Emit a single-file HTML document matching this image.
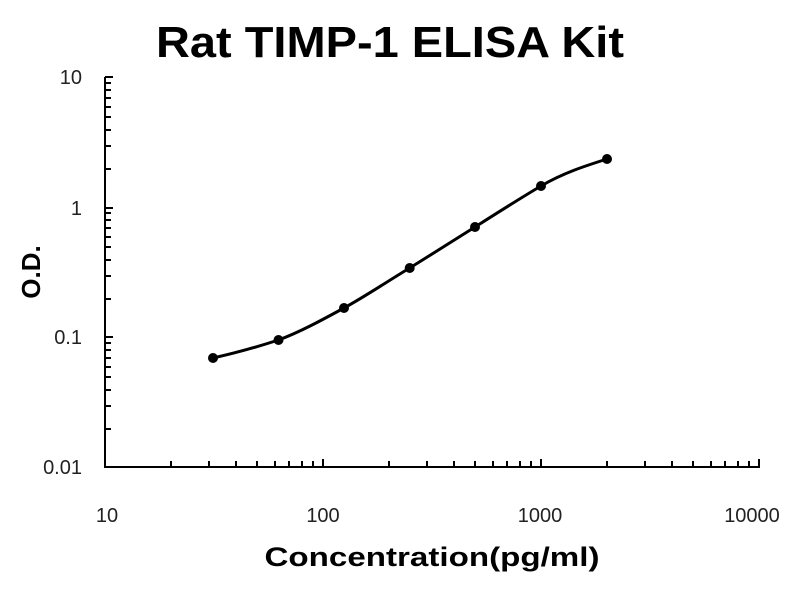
<!DOCTYPE html><html><head><style>body{margin:0;background:#fff}</style></head><body>
<svg width="800" height="600" xmlns="http://www.w3.org/2000/svg" font-family="Liberation Sans, sans-serif">
<rect width="800" height="600" fill="#fff"/>
<text x="390" y="57" font-size="44" font-weight="bold" text-anchor="middle" textLength="468" lengthAdjust="spacingAndGlyphs">Rat TIMP-1 ELISA Kit</text>
<g stroke="#000" stroke-width="2" fill="none">
<path d="M105 77 V467 H760"/>
<path d="
M105 77h8 M105 83h6 M105 90h6 M105 98h6 M105 107h6 M105 117h6 M105 130h6 M105 146h6 M105 169h6 M105 208h8
M105 213h6 M105 220h6 M105 228h6 M105 237h6 M105 247h6 M105 260h6 M105 276h6 M105 299h6 M105 337h8
M105 343h6 M105 350h6 M105 358h6 M105 367h6 M105 377h6 M105 390h6 M105 406h6 M105 429h6
M171 467v-6 M209 467v-6 M236 467v-6 M257 467v-6 M275 467v-6 M289 467v-6 M302 467v-6 M313 467v-6 M323 467v-8
M389 467v-6 M427 467v-6 M454 467v-6 M475 467v-6 M493 467v-6 M507 467v-6 M520 467v-6 M531 467v-6 M541 467v-8
M607 467v-6 M645 467v-6 M672 467v-6 M693 467v-6 M711 467v-6 M725 467v-6 M738 467v-6 M749 467v-6 M759 467v-8"/>
<path stroke-width="3" d="M213 358 C240 352 260 346 278.5 340 C300 332 322 320 344 308 C366 296 388 281 409.7 268 C432 254 453 241 475 227 C497 213 519 199 541 186 C563 173 585 166 607 159"/>
</g>
<g fill="#000"><circle cx="213" cy="358" r="5"/><circle cx="278.5" cy="340" r="5"/><circle cx="344" cy="308" r="5"/><circle cx="409.7" cy="268" r="5"/><circle cx="475" cy="227" r="5"/><circle cx="541" cy="186" r="5"/><circle cx="607" cy="159" r="5"/></g>
<g font-size="20" fill="#222" text-anchor="end">
<text x="82" y="84">10</text><text x="82" y="215">1</text><text x="82" y="344">0.1</text><text x="82" y="474">0.01</text></g>
<g font-size="20" fill="#222" text-anchor="middle">
<text x="107" y="522">10</text><text x="323" y="522">100</text><text x="540" y="522">1000</text><text x="752" y="522">10000</text></g>
<text x="432" y="566" font-size="27" font-weight="bold" text-anchor="middle" textLength="335" lengthAdjust="spacingAndGlyphs">Concentration(pg/ml)</text>
<text transform="translate(40 272) rotate(-90)" font-size="26" font-weight="bold" text-anchor="middle">O.D.</text>
</svg></body></html>
